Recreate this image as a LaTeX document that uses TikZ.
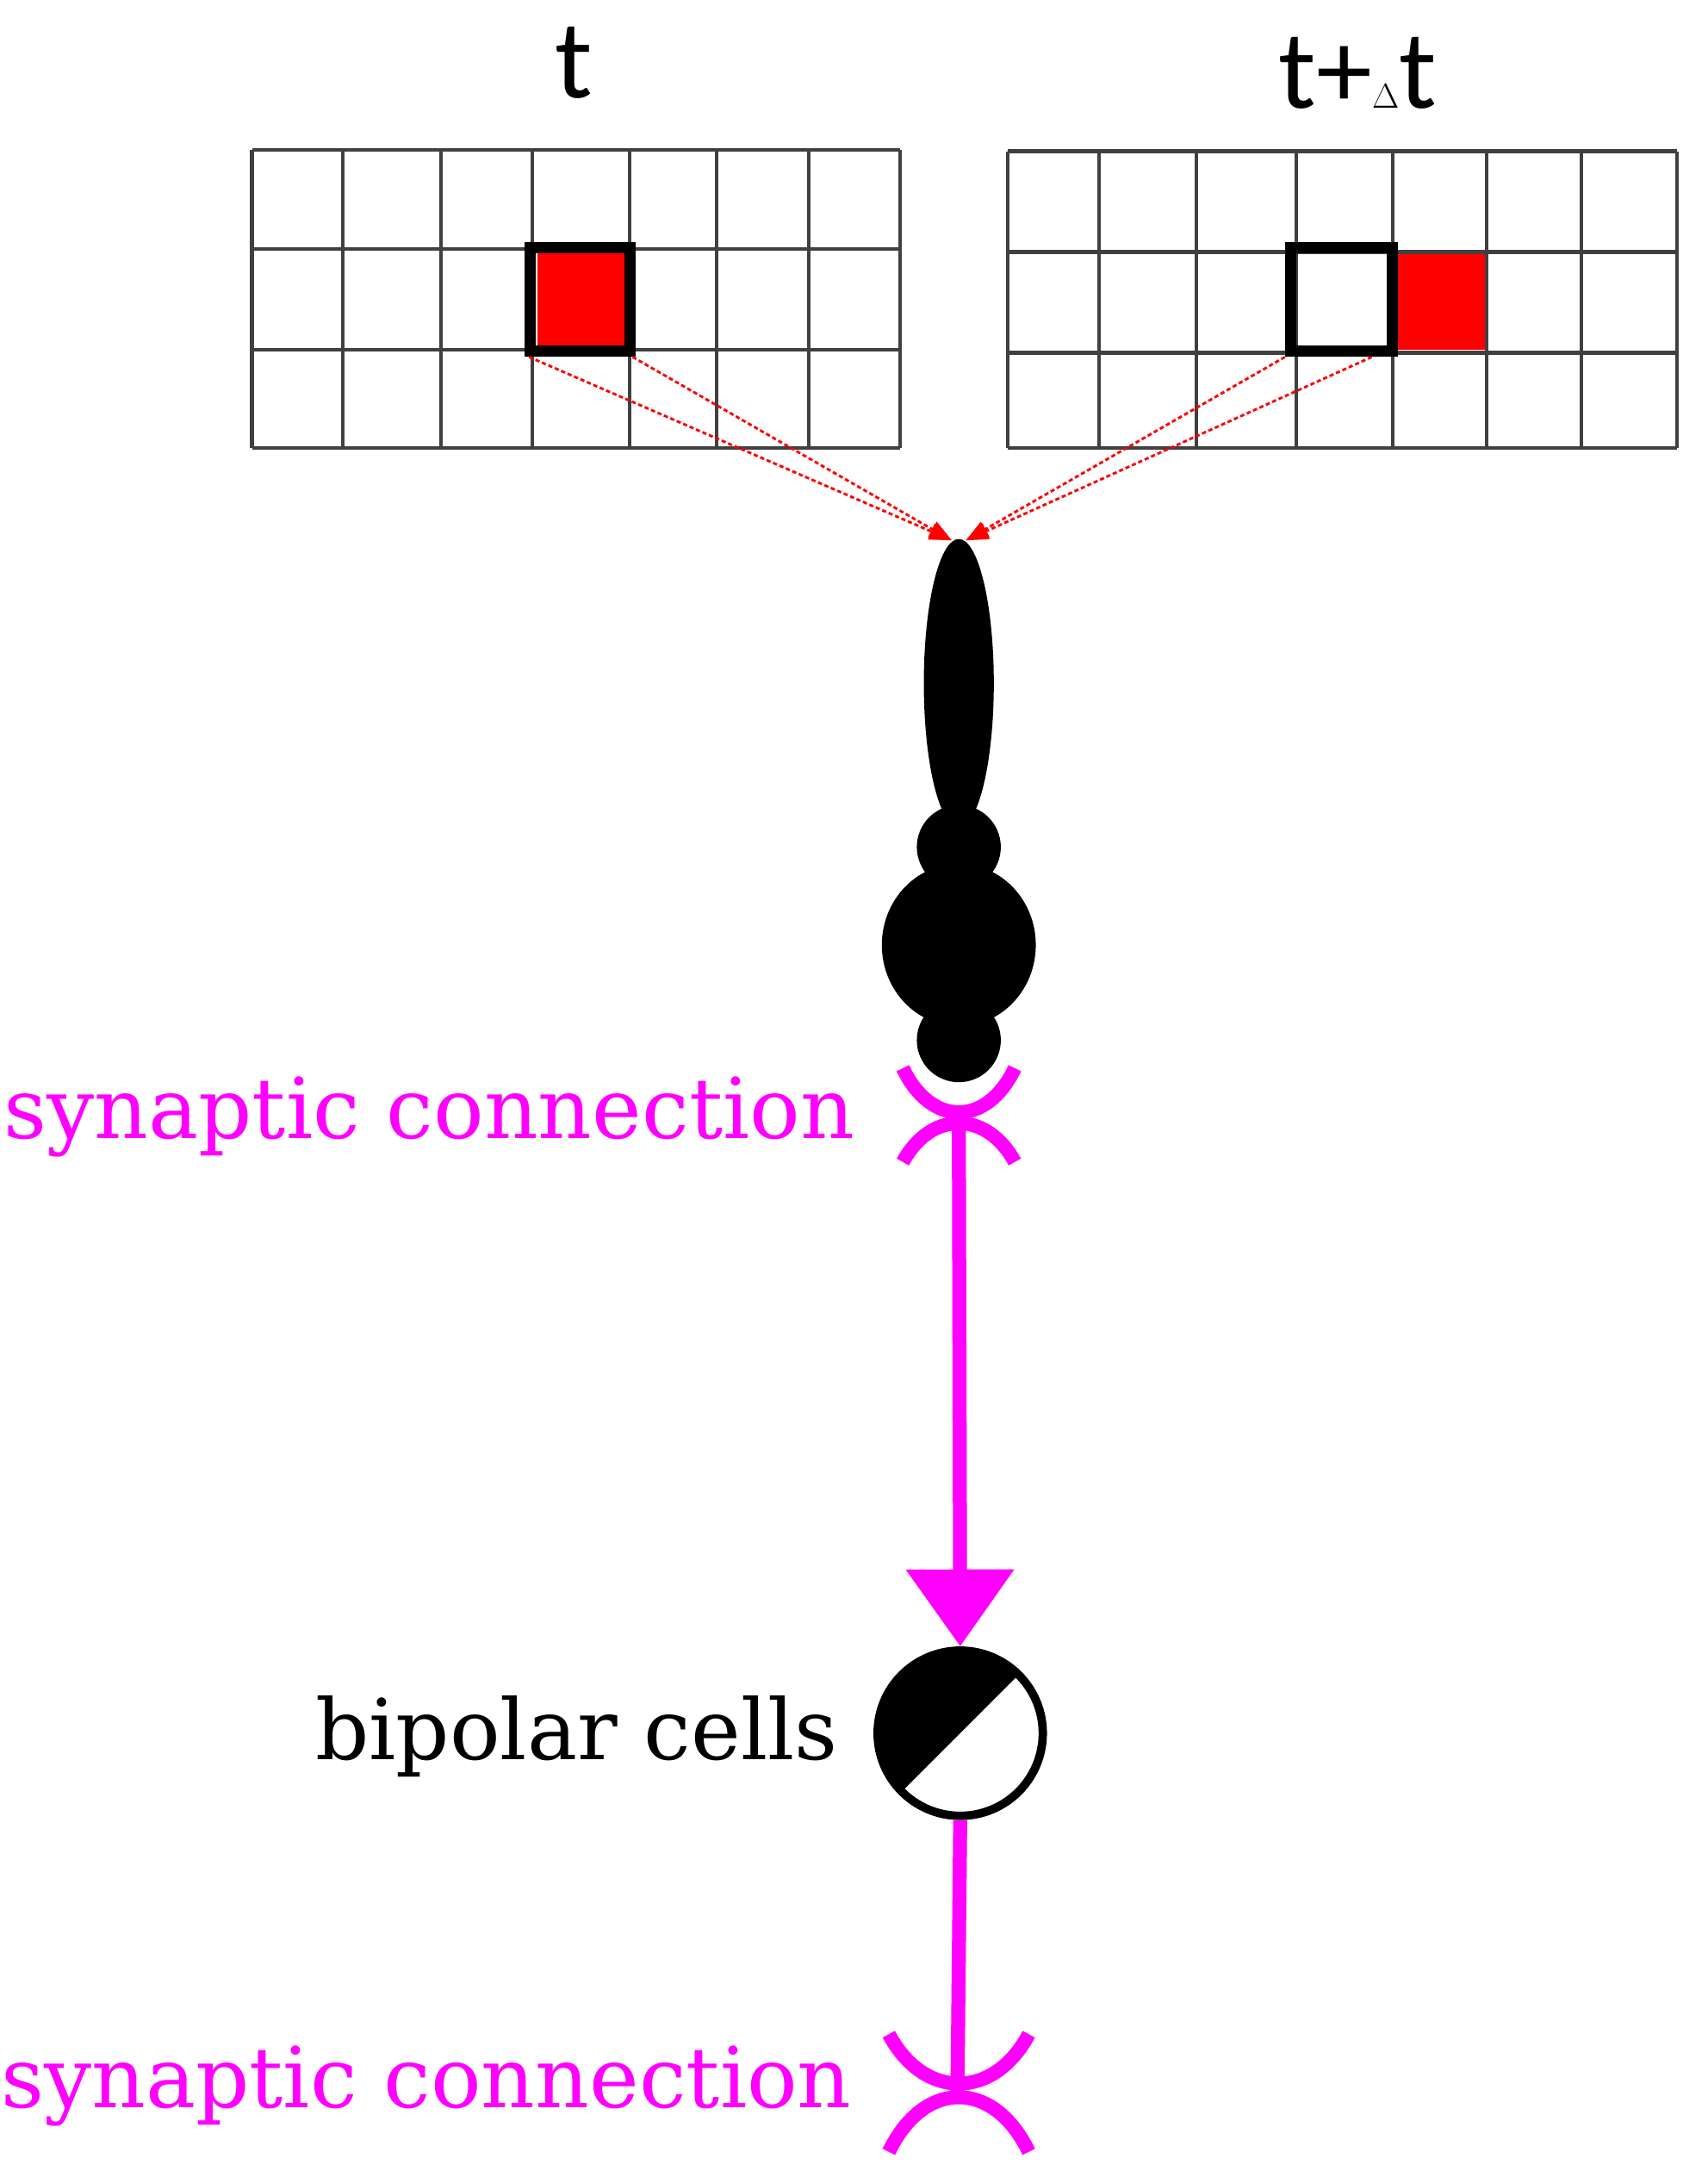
\documentclass[tikz,border=0pt]{standalone}
\usepackage{fontspec}
\setmainfont{DejaVu Serif}
\newfontfamily\lblfont{Carlito}
\usetikzlibrary{arrows.meta}
\definecolor{mag}{RGB}{255,0,255}
\begin{document}
\begin{tikzpicture}[x=1pt,y=-1pt,
  grid/.style={draw=black!75,line width=2.5pt},
  ray/.style={red,densely dashed,line width=1.8pt,-{Triangle[length=16pt,width=12pt]}},
  syn/.style={mag,line width=10pt},
  lab/.style={mag,font=\fontsize{60}{60}\selectfont,anchor=east}]
\useasboundingbox (0,0) rectangle (1220,1555);
% labels
\node[font=\lblfont\fontsize{80}{80}\selectfont] (lt) at (410,45) {t};
\node[font=\lblfont\fontsize{80}{80}\selectfont] (lr) at (970,52) {t+$\Delta$t};
% left grid
\fill[red] (384,181) rectangle (446,248);
\foreach \x in {180,245,315,380,450,512,578,643} \draw[grid] (\x,107) -- (\x,320);
\foreach \y in {107,178,250,320} \draw[grid] (180,\y) -- (643,\y);
\draw[line width=8pt] (379,177) rectangle (450,251);
% right grid
\fill[red] (998,180) rectangle (1062,250);
\foreach \x in {720,785,855,926,995,1062,1130,1198} \draw[grid] (\x,108) -- (\x,320);
\foreach \y in {108,180,252,320} \draw[grid] (720,\y) -- (1198,\y);
\draw[line width=8pt] (922,177) rectangle (995,251);
% nodes for ray origins
\coordinate (a1) at (378,255); \coordinate (a2) at (452,255);
\coordinate (b1) at (918,255); \coordinate (b2) at (980,255);
\coordinate (tipL) at (680,386); \coordinate (tipR) at (690,386);
\draw[ray] (a1) -- (tipL); \draw[ray] (a2) -- (tipL);
\draw[ray] (b1) -- (tipR); \draw[ray] (b2) -- (tipR);
% photoreceptor
\fill (685,488) ellipse (25 and 103);
\fill (685,605) circle (30);
\fill (685,675) ellipse (55 and 58);
\fill (685,743) circle (30);
% synapse 1
\coordinate (s1) at (685,800);
\draw[syn] (645,763) .. controls (665,805) and (705,805) .. (725,763);
\draw[syn] (645,830) .. controls (665,793) and (705,793) .. (725,830);
\node[lab] (l1) at (614,798) {synaptic connection};
% bipolar
\node[circle,draw,line width=6pt,minimum size=118pt,inner sep=0pt] (bp) at (686,1238) {};
\fill (bp.center) ++(135:59) arc[start angle=135,end angle=315,radius=59] -- cycle;
\draw[syn,-{Triangle[length=55pt,width=75pt]}] (s1) -- (bp.north);
\node[font=\fontsize{60}{60}\selectfont,anchor=east] (l2) at (602,1240) {bipolar cells};
% synapse 2
\coordinate (s2) at (684,1495);
\draw[syn] (bp.south) -- (s2);
\draw[syn] (635,1453) .. controls (660,1500) and (710,1500) .. (735,1453);
\draw[syn] (635,1537) .. controls (660,1485) and (710,1485) .. (735,1537);
\node[lab] (l3) at (612,1490) {synaptic connection};
\end{tikzpicture}
\end{document}
